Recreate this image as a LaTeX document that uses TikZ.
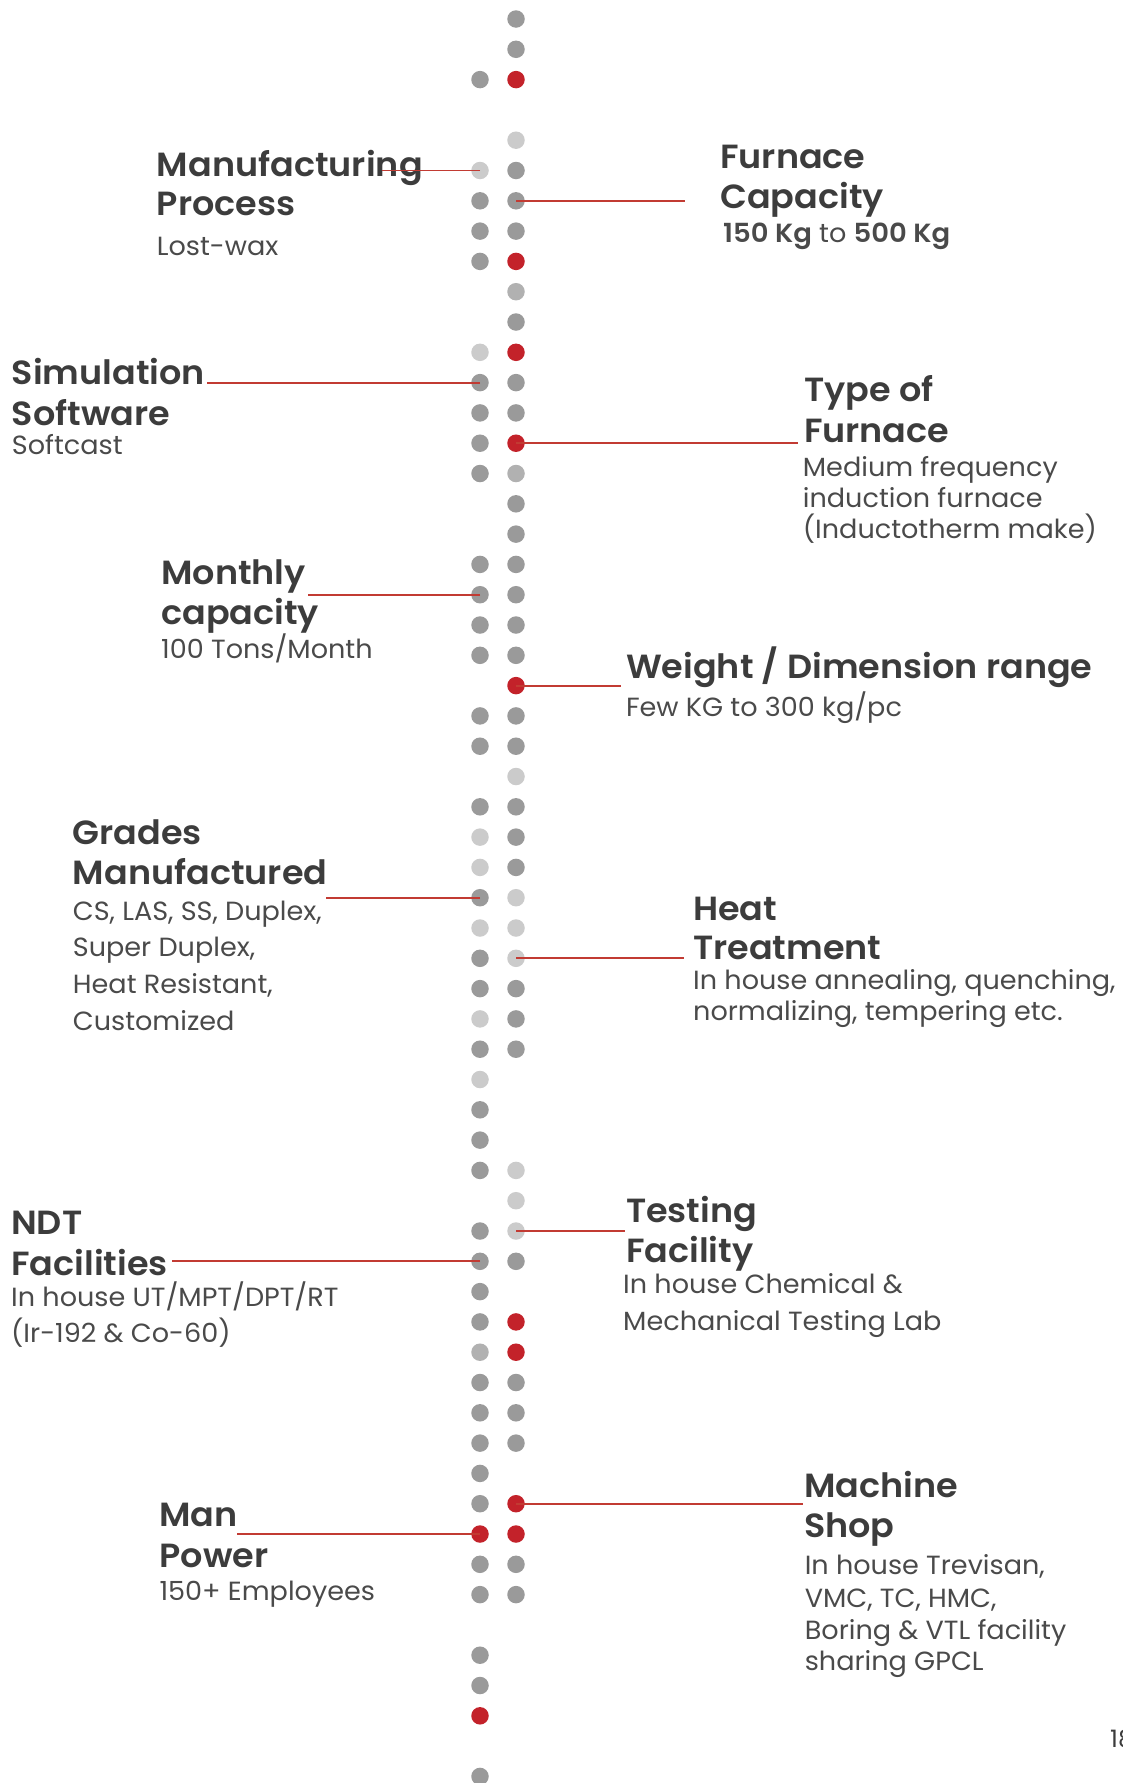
\documentclass[tikz,border=0pt]{standalone}
\usepackage{fontspec}
\setmainfont{Poppins}
\newfontfamily\hfont{Poppins SemiBold}[FakeStretch=1.045]
\newfontfamily\bfont{Poppins}[FakeStretch=1.03]
\definecolor{dgc}{HTML}{9A9A9A}
\definecolor{lgc}{HTML}{CBCBCB}
\definecolor{mgc}{HTML}{B1B1B1}
\definecolor{rdc}{HTML}{C3222A}
\definecolor{linec}{HTML}{C23B33}
\definecolor{headc}{HTML}{3C3C3C}
\definecolor{bodyc}{HTML}{4A4A4A}
\tikzset{
  dot/.style={circle, inner sep=0pt, minimum size=17.5pt, draw=none},
  dg/.style={fill=dgc}, lg/.style={fill=lgc}, mg/.style={fill=mgc}, rd/.style={fill=rdc},
  head/.style={font=\hfont\fontsize{33.5}{40}\selectfont, text=headc, inner sep=0pt, anchor=base west},
  body/.style={font=\bfont\fontsize{26.3}{32}\selectfont, text=bodyc, inner sep=0pt, anchor=base west},
  conn/.style={draw=linec, line width=1.8pt}
}
\begin{document}
\begin{tikzpicture}[x=1pt,y=-1pt]
\clip (0,0) rectangle (1123,1783);
\useasboundingbox (0,0) rectangle (1123,1783);
% dots, left column
\foreach \i/\c in {2/dg,5/lg,6/dg,7/dg,8/dg,11/lg,12/dg,13/dg,14/dg,15/dg,18/dg,19/dg,20/dg,21/dg,23/dg,24/dg,26/dg,27/lg,28/lg,29/dg,30/lg,31/dg,32/dg,33/lg,34/dg,35/lg,36/dg,37/dg,38/dg,40/dg,41/dg,42/dg,43/dg,44/mg,45/dg,46/dg,47/dg,48/dg,49/dg,50/rd,51/dg,52/dg,54/dg,55/dg,56/rd,58/dg}
  \node[dot,\c] (L\i) at (480,{19+30.3*\i}) {};
% dots, right column
\foreach \i/\c in {0/dg,1/dg,2/rd,4/lg,5/dg,6/dg,7/dg,8/rd,9/mg,10/dg,11/rd,12/dg,13/dg,14/rd,15/mg,16/dg,17/dg,18/dg,19/dg,20/dg,21/dg,22/rd,23/dg,24/dg,25/lg,26/dg,27/dg,28/dg,29/lg,30/lg,31/lg,32/dg,33/dg,34/dg,38/lg,39/lg,40/lg,41/dg,43/rd,44/rd,45/dg,46/dg,47/dg,49/rd,50/rd,51/dg,52/dg}
  \node[dot,\c] (R\i) at (516,{19+30.3*\i}) {};

% connector free ends
\coordinate (eMfg) at (381.7,0);
\coordinate (eFur) at (685.4,0);
\coordinate (eSim) at (206.7,0);
\coordinate (eTyp) at (797.7,0);
\coordinate (eMon) at (308.3,0);
\coordinate (eWei) at (621,0);
\coordinate (eGra) at (326,0);
\coordinate (eHea) at (683.5,0);
\coordinate (eNdt) at (172.3,0);
\coordinate (eTes) at (624.6,0);
\coordinate (eMan) at (237.3,0);
\coordinate (eMac) at (802.7,0);

% texts, left side
\node[head] (mfgA) at (156.7,176) {Manufacturing};
\node[head] (mfgB) at (156.7,215.7) {Process};
\node[body] (mfgC) at (156.7,255) {Lost-wax};

\node[head] (simA) at (11.7,384.3) {Simulation};
\node[head] (simB) at (11.7,425) {Software};
\node[body] (simC) at (11.7,454) {Softcast};

\node[head] (monA) at (161,584) {Monthly};
\node[head] (monB) at (161,624) {capacity};
\node[body] (monC) at (161,658.3) {100 Tons/Month};

\node[head] (graA) at (72.7,844) {Grades};
\node[head] (graB) at (72.7,884) {Manufactured};
\node[body] (graC) at (72.7,920) {CS, LAS, SS, Duplex,};
\node[body] (graD) at (72.7,956.7) {Super Duplex,};
\node[body] (graE) at (72.7,993.3) {Heat Resistant,};
\node[body] (graF) at (72.7,1030) {Customized};

\node[head] (ndtA) at (11,1234) {NDT};
\node[head] (ndtB) at (11,1275) {Facilities};
\node[body] (ndtC) at (11,1306) {In house UT/MPT/DPT/RT};
\node[body] (ndtD) at (11,1342.7) {(Ir-192 \& Co-60)};

\node[head] (manA) at (159.3,1526.7) {Man};
\node[head] (manB) at (159.3,1567.3) {Power};
\node[body] (manC) at (159.3,1600.7) {150+ Employees};

% texts, right side
\node[head] (furA) at (720,168.3) {Furnace};
\node[head] (furB) at (720,208.3) {Capacity};
\node[body] (furC) at (723,242.7) {{\hfont 150 Kg} to {\hfont 500 Kg}};

\node[head] (typA) at (803.8,401.7) {Type of};
\node[head] (typB) at (803.8,442.7) {Furnace};
\node[body] (typC) at (802.7,476) {Medium frequency};
\node[body] (typD) at (802.7,507.7) {induction furnace};
\node[body] (typE) at (802.7,538.3) {(Inductotherm make)};

\node[head] (weiA) at (625.8,678.3) {Weight / Dimension range};
\node[body] (weiB) at (625.8,716.7) {Few KG to 300 kg/pc};

\node[head] (heaA) at (693,920) {Heat};
\node[head] (heaB) at (693,959.3) {Treatment};
\node[body] (heaC) at (693,989.3) {In house annealing, quenching,};
\node[body] (heaD) at (693,1020) {normalizing, tempering etc.};

\node[head] (tesA) at (625.8,1222.3) {Testing};
\node[head] (tesB) at (625.8,1262.7) {Facility};
\node[body] (tesC) at (623,1293.5) {In house Chemical \&};
\node[body] (tesD) at (623,1330.8) {Mechanical Testing Lab};

\node[head] (macA) at (803.8,1497.3) {Machine};
\node[head] (macB) at (803.8,1537.7) {Shop};
\node[body] (macC) at (804.6,1574.2) {In house Trevisan,};
\node[body] (macD) at (804.6,1607) {VMC, TC, HMC,};
\node[body] (macE) at (804.6,1639.6) {Boring \& VTL facility};
\node[body] (macF) at (804.6,1670.4) {sharing GPCL};

\node[body, text=headc, font=\bfont\fontsize{24}{28}\selectfont] (page) at (1110,1747) {18};

% connectors
\draw[conn] (L5.center) -- (L5.center -| eMfg);
\draw[conn] (R6.center) -- (R6.center -| eFur);
\draw[conn] (L12.center) -- (L12.center -| eSim);
\draw[conn] (R14.center) -- (R14.center -| eTyp);
\draw[conn] (L19.center) -- (L19.center -| eMon);
\draw[conn] (R22.center) -- (R22.center -| eWei);
\draw[conn] (L29.center) -- (L29.center -| eGra);
\draw[conn] (R31.center) -- (R31.center -| eHea);
\draw[conn] (L41.center) -- (L41.center -| eNdt);
\draw[conn] (R40.center) -- (R40.center -| eTes);
\draw[conn] (L50.center) -- (L50.center -| eMan);
\draw[conn] (R49.center) -- (R49.center -| eMac);
\end{tikzpicture}
\end{document}
